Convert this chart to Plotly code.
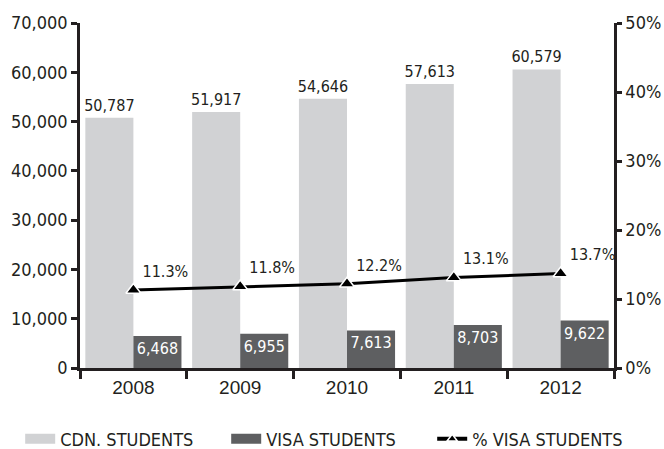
import plotly.graph_objects as go

years = ["2008", "2009", "2010", "2011", "2012"]
cdn_students = [50787, 51917, 54646, 57613, 60579]
visa_students = [6468, 6955, 7613, 8703, 9622]
visa_pct = [11.3, 11.8, 12.2, 13.1, 13.7]
count_ticks = [0, 10000, 20000, 30000, 40000, 50000, 60000, 70000]
pct_ticks = [0, 10, 20, 30, 40, 50]
pct_tick_labels = ["0%", "10%", "20%", "30%", "40%", "50%"]

LIGHT = "#d1d2d4"
DARK = "#5e5f61"
INK = "#231f20"
NARROW = "DejaVu Sans Condensed, Liberation Sans Narrow, sans-serif"

fig = go.Figure()
fig.add_trace(go.Bar(
    x=years, y=cdn_students, name="CDN. STUDENTS", showlegend=False,
    marker=dict(color=LIGHT, line=dict(width=0)),
    texttemplate="%{y:,d}", textposition="outside",
    textfont=dict(family=NARROW, size=16, color=INK),
    constraintext="none", cliponaxis=False,
))
fig.add_trace(go.Bar(
    x=years, y=visa_students, name="VISA STUDENTS", showlegend=False,
    marker=dict(color=DARK, line=dict(width=0)),
    texttemplate="%{y:,d}", textposition="inside", insidetextanchor="end",
    textfont=dict(family=NARROW, size=16, color="white"),
    constraintext="none",
))
fig.add_trace(go.Scatter(
    x=years, y=visa_pct, name="% VISA STUDENTS", yaxis="y2", showlegend=False,
    mode="lines+markers+text",
    line=dict(color="black", width=3),
    marker=dict(symbol="triangle-up", size=13, color="black",
                line=dict(color="white", width=1.5)),
    text=[f"{v:.1f}%" for v in visa_pct], textposition="top right",
    textfont=dict(family=NARROW, size=16, color=INK),
    cliponaxis=False,
))

# legend-only entries with wide rectangular swatches like the reference
fig.add_trace(go.Scatter(x=[None], y=[None], mode="lines", name="CDN. STUDENTS",
                         line=dict(color=LIGHT, width=10)))
fig.add_trace(go.Scatter(x=[None], y=[None], mode="lines", name="VISA STUDENTS",
                         line=dict(color=DARK, width=10)))
fig.add_trace(go.Scatter(x=[None], y=[None], mode="lines+markers", name="% VISA STUDENTS",
                         line=dict(color="black", width=4),
                         marker=dict(symbol="triangle-up", size=9, color="black",
                                     line=dict(color="white", width=1.5))))

fig.update_layout(
    width=664, height=449,
    margin=dict(l=80, r=50, t=23, b=81, autoexpand=False),
    paper_bgcolor="white", plot_bgcolor="white",
    barmode="group", bargap=0.1, bargroupgap=0,
    showlegend=True,
    legend=dict(orientation="h", x=-0.112, xanchor="left", y=-0.206, yanchor="middle",
                font=dict(family=NARROW, size=18, color=INK),
                entrywidth=161, traceorder="normal"),
    xaxis=dict(
        type="category", showline=True, linecolor=INK, linewidth=2.5,
        ticks="outside", tickson="boundaries", ticklen=8, tickwidth=2.5, tickcolor=INK,
        tickfont=dict(family="Liberation Sans, Arial, sans-serif", size=19, color=INK),
        showgrid=False, zeroline=False, automargin=False,
    ),
    yaxis=dict(
        range=[0, 70000], tickvals=count_ticks,
        tickformat=",d", showline=True, linecolor=INK, linewidth=2.5,
        ticks="outside", ticklen=6, tickwidth=2.5, tickcolor=INK,
        tickfont=dict(family=NARROW, size=18, color=INK),
        showgrid=False, zeroline=False, automargin=False,
    ),
    yaxis2=dict(
        range=[0, 50], tickvals=pct_ticks, ticktext=pct_tick_labels,
        overlaying="y", side="right", showline=True, linecolor=INK, linewidth=2.5,
        ticks="outside", ticklen=5, tickwidth=2.5, tickcolor=INK,
        tickfont=dict(family=NARROW, size=18, color=INK),
        showgrid=False, zeroline=False, automargin=False,
    ),
)

fig.write_html("out.html", config={"displayModeBar": False},
               post_script="document.body.style.margin='0';")
